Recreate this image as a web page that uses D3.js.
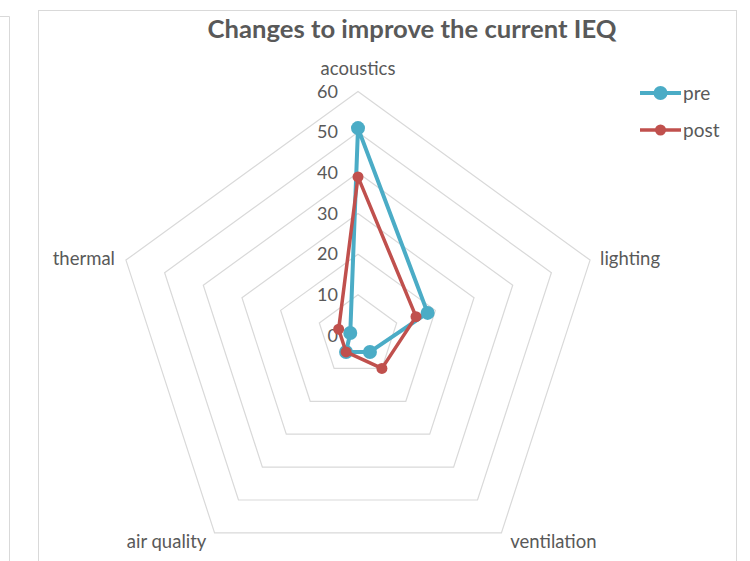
<!DOCTYPE html>
<html><head><meta charset="utf-8">
<script src="https://cdn.jsdelivr.net/npm/d3@7"></script>
<style>
html,body{margin:0;padding:0;background:#fff;}
svg{display:block;font-family:Lato,"Open Sans",sans-serif;}
</style></head>
<body><svg id="c" width="750" height="561"></svg>
<script>
const categories = ["acoustics","lighting","ventilation","air quality","thermal"];
const preValues  = [51, 18, 5, 5, 2];
const postValues = [39, 15, 10, 5, 5];
const tickValues = [0,10,20,30,40,50,60];
const seriesNames = ["pre","post"];
const seriesColors = ["#4bacc6","#c0504d"];

const svg = d3.select("#c");
const cx = 358, cy = 335.5, R = 244;

// frames
svg.append("rect").attr("x",38.5).attr("y",10.5).attr("width",698).attr("height",560)
  .attr("fill","#fff").attr("stroke","#d9d9d9").attr("stroke-width",1);
svg.append("path").attr("d","M0,16.5H9.5V561").attr("fill","none").attr("stroke","#d9d9d9");

const r = d3.scaleLinear().domain([0,60]).range([0,R]);
const angle = d3.scaleLinear().domain([0,categories.length]).range([0,2*Math.PI]);
const pt = (i,v) => [cx + r(v)*Math.sin(angle(i)), cy - r(v)*Math.cos(angle(i))];

// grid polygons
const g = svg.append("g");
tickValues.filter(t=>t>0).forEach(t=>{
  const pts = categories.map((c,i)=>pt(i,t));
  g.append("path").attr("d", d3.line()(pts)+"Z")
    .attr("fill","none").attr("stroke","#d9d9d9").attr("stroke-width",1.2);
});

// tick labels
tickValues.forEach(t=>{
  svg.append("text").attr("x",cx-20).attr("y",cy - r(t)).attr("dy","0.35em")
    .attr("text-anchor","end").attr("font-size",18).attr("fill","#595959").text(t);
});

// category labels
const labelPos = [
  {dx:0, dy:-23, anchor:"middle"},
  {dx:10, dy:-2, anchor:"start"},
  {dx:52, dy:9, anchor:"middle"},
  {dx:-48, dy:9, anchor:"middle"},
  {dx:-11, dy:-2, anchor:"end"}
];
categories.forEach((c,i)=>{
  const [x,y] = pt(i,60);
  const lp = labelPos[i];
  svg.append("text").attr("x",x+lp.dx).attr("y",y+lp.dy).attr("dy","0.35em")
    .attr("text-anchor",lp.anchor).attr("font-size",18.5).attr("fill","#595959").text(c);
});

// series
const data = [preValues, postValues];
const widths = [4, 3.5], radii = [7, 5.5];
data.forEach((vals,s)=>{
  const pts = vals.map((v,i)=>pt(i,v));
  svg.append("path").attr("d", d3.line()(pts)+"Z").attr("fill","none")
    .attr("stroke",seriesColors[s]).attr("stroke-width",widths[s]).attr("stroke-linejoin","round");
  svg.selectAll(null).data(pts).enter().append("circle")
    .attr("cx",d=>d[0]).attr("cy",d=>d[1]).attr("r",radii[s]).attr("fill",seriesColors[s]);
});

// title
svg.append("text").attr("x",412).attr("y",30).attr("dy","0.35em").attr("text-anchor","middle")
  .attr("font-size",24).attr("font-weight","bold").attr("fill","#595959")
  .attr("textLength",409).attr("lengthAdjust","spacingAndGlyphs")
  .text("Changes to improve the current IEQ");

// legend
seriesNames.forEach((n,s)=>{
  const y = 93 + s*37;
  svg.append("line").attr("x1",640).attr("x2",681).attr("y1",y).attr("y2",y)
    .attr("stroke",seriesColors[s]).attr("stroke-width",widths[s]);
  svg.append("circle").attr("cx",660.5).attr("cy",y).attr("r",radii[s]).attr("fill",seriesColors[s]);
  svg.append("text").attr("x",683).attr("y",y).attr("dy","0.35em").attr("font-size",19)
    .attr("fill","#595959").text(n);
});
</script></body></html>
